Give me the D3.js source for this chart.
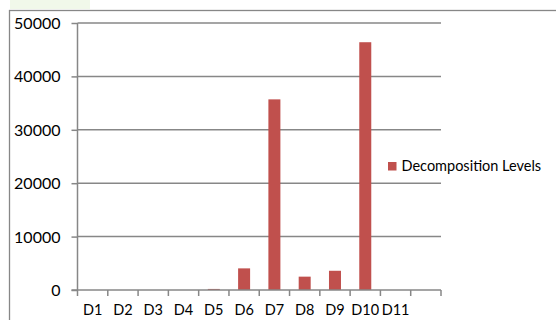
<!DOCTYPE html>
<html>
<head>
<meta charset="utf-8">
<script src="https://cdn.jsdelivr.net/npm/d3@7"></script>
<style>
  html, body { margin: 0; padding: 0; background: #fff; }
  svg { display: block; }
</style>
</head>
<body>
<svg id="chart" width="556" height="320"></svg>
<script>
// Decomposition levels per detail band
const categories = ["D1", "D2", "D3", "D4", "D5", "D6", "D7", "D8", "D9", "D10", "D11", ""];
const values = [0, 0, 0, 0, 200, 4050, 35700, 2500, 3600, 46400, 0, 0];
const yTicks = [0, 10000, 20000, 30000, 40000, 50000];
const seriesName = "Decomposition Levels";

const svg = d3.select("#chart");
const gridColor = "#878787";
const barColor = "#C0504D";
const font = "Lato, 'Open Sans', sans-serif";

// faint green patch along the top edge
svg.append("rect").attr("x", 10).attr("y", 0).attr("width", 80).attr("height", 9)
  .attr("fill", "#f1f8ea");

// outer chart frame
svg.append("rect")
  .attr("x", 9.5).attr("y", 10.5).attr("width", 560).attr("height", 320)
  .attr("fill", "none").attr("stroke", gridColor).attr("stroke-width", 1.3);

const plotLeft = 77.5, plotRight = 441, plotTop = 23, plotBottom = 290;

const x = d3.scaleBand().domain(categories.map((c, i) => i)).range([plotLeft, plotRight]);
const y = d3.scaleLinear().domain([0, 50000]).range([plotBottom, plotTop]);

// horizontal gridlines
svg.append("g").selectAll("line").data(yTicks.filter(t => t > 0)).join("line")
  .attr("x1", plotLeft).attr("x2", plotRight)
  .attr("y1", d => y(d)).attr("y2", d => y(d))
  .attr("stroke", gridColor).attr("stroke-width", 1.5);

// bars
const bw = 12;
svg.append("g").selectAll("rect").data(values).join("rect")
  .attr("x", (d, i) => x(i) + x.bandwidth() / 2 - bw / 2)
  .attr("width", bw)
  .attr("y", d => y(d))
  .attr("height", d => plotBottom - y(d))
  .attr("fill", barColor);

// y axis
const yAxis = svg.append("g").attr("transform", `translate(${plotLeft},0)`)
  .call(d3.axisLeft(y).tickValues(yTicks).tickSize(6).tickPadding(11).tickFormat(d3.format("d")));
yAxis.select(".domain").attr("stroke", gridColor).attr("stroke-width", 1.5)
  .attr("d", `M0,${plotTop}V${plotBottom}`);
yAxis.selectAll(".tick line").attr("stroke", gridColor).attr("stroke-width", 1.5);
yAxis.selectAll(".tick text").attr("fill", "#000").attr("font-family", font)
  .attr("font-size", "16px").attr("dy", "0.34em");

// x axis with tick marks at category boundaries
const xAxis = svg.append("g").attr("transform", `translate(0,${plotBottom})`);
xAxis.append("line").attr("x1", plotLeft - 6).attr("x2", plotRight)
  .attr("stroke", gridColor).attr("stroke-width", 1.5);
const bounds = categories.map((c, i) => x(i)).concat([plotRight]);
xAxis.selectAll("line.tk").data(bounds).join("line").attr("class", "tk")
  .attr("x1", d => d).attr("x2", d => d).attr("y1", 0).attr("y2", 6)
  .attr("stroke", gridColor).attr("stroke-width", 1.5);
xAxis.selectAll("text").data(categories).join("text")
  .attr("x", (d, i) => x(i) + x.bandwidth() / 2)
  .attr("y", 25)
  .attr("text-anchor", "middle")
  .attr("font-family", font).attr("font-size", "14.5px").attr("fill", "#000")
  .text(d => d);

// legend
const lg = svg.append("g").attr("transform", "translate(388,162)");
lg.append("rect").attr("width", 8.5).attr("height", 8.5).attr("fill", barColor);
lg.append("text").attr("x", 13.5).attr("y", 8.8)
  .attr("font-family", font).attr("font-size", "14.5px").attr("fill", "#000")
  .text(seriesName);
</script>
</body>
</html>
